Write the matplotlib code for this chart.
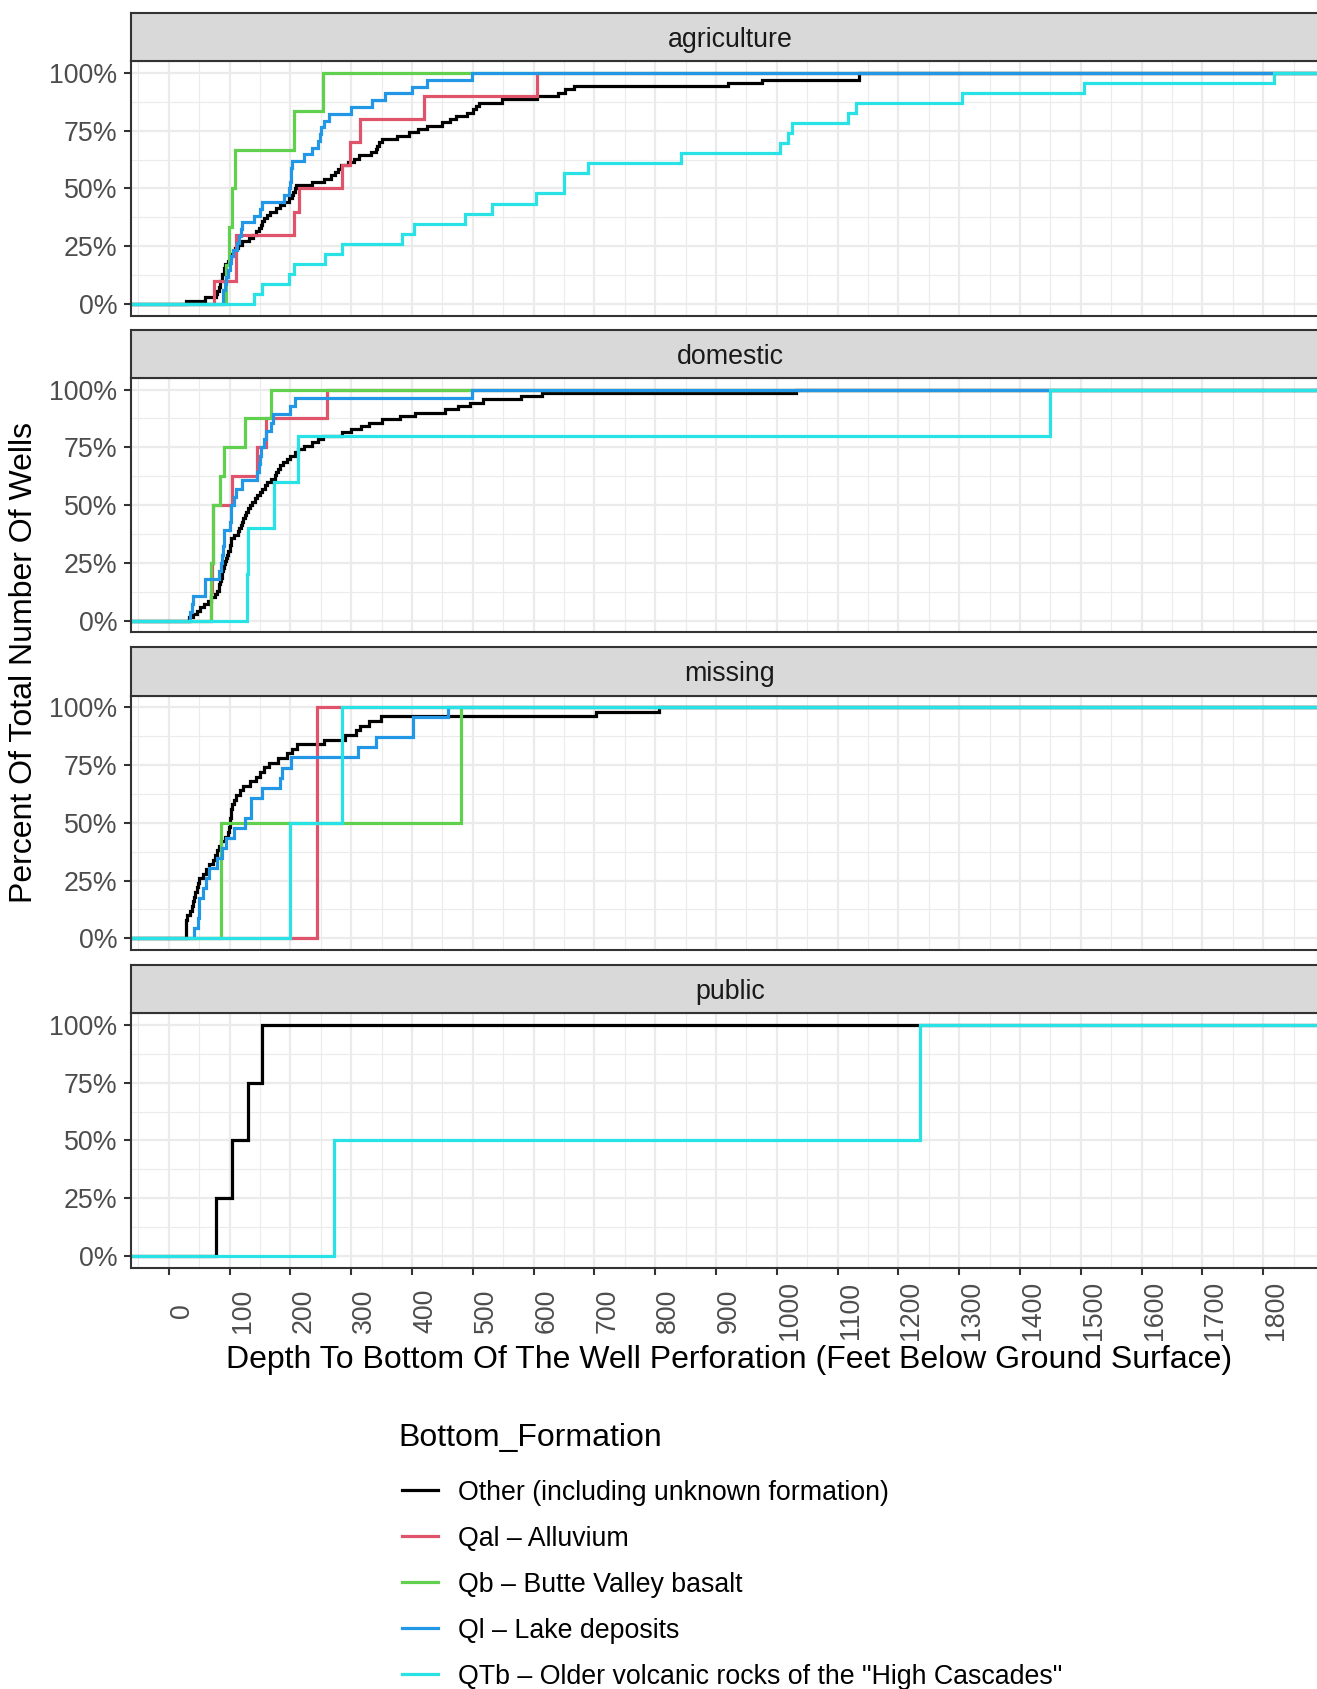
import numpy as np
import matplotlib.pyplot as plt
from matplotlib.lines import Line2D

plt.rcParams['font.family'] = ['Liberation Sans', 'DejaVu Sans']

W, H = 1317, 1689

formations = ["Other (including unknown formation)",
              "Qal \u2013 Alluvium",
              "Qb \u2013 Butte Valley basalt",
              "Ql \u2013 Lake deposits",
              'QTb \u2013 Older volcanic rocks of the "High Cascades"']
colors = ["black", "#DF536B", "#61D04F", "#2297E6", "#28E2E5"]
uses = ["agriculture", "domestic", "missing", "public"]

# Depth to bottom of perforation (ft) for each well, by use and formation
agri_other = [28, 60, 78, 80, 82, 84, 85, 87, 88, 90,
              91, 93, 97, 100, 103, 106, 109, 114, 120, 132,
              138, 143, 148, 152, 154, 157, 162, 167, 176, 183,
              190, 197, 203, 205, 207, 210, 235, 255, 266, 274,
              279, 283, 295, 305, 313, 332, 340, 343, 345, 350,
              375, 395, 410, 425, 450, 462, 472, 490, 500, 505,
              510, 548, 605, 640, 652, 667, 919, 975, 1135, 1135]
agri_qal = [75, 110, 111, 206, 214, 285, 298, 315, 420, 605]
agri_qb = [94, 99, 104, 109, 206, 254]
agri_ql = [89, 89, 92, 94, 98, 101, 103, 106, 112, 115, 118, 121, 140, 150,
           154, 190, 197, 199, 201, 201, 202, 223, 236, 245, 248, 250, 256,
           264, 299, 334, 356, 400, 425, 499]
agri_qtb = [140, 154, 198, 206, 257, 285, 383, 403, 487, 532, 604, 650, 650,
            690, 842, 1006, 1018, 1025, 1117, 1130, 1304, 1506, 1818]

dom_other = [33, 40, 46, 52, 58, 64, 70, 76, 79, 82,
             83, 84, 86, 87, 88, 89, 90, 92, 94, 96,
             98, 100, 101, 102, 103, 107, 113, 115, 118, 120,
             122, 125, 127, 130, 133, 137, 141, 145, 150, 154,
             158, 162, 168, 174, 177, 180, 183, 188, 195, 200,
             207, 212, 223, 235, 246, 253, 285, 300, 316, 330,
             350, 380, 405, 455, 475, 495, 516, 579, 614, 1032]
dom_qal = [69, 71, 72, 72, 104, 145, 160, 261]
dom_qb = [70, 70, 72, 73, 85, 90, 126, 168]
dom_ql = [35, 38, 39, 60, 60, 82, 86, 87, 89, 90, 91, 100, 102, 103, 108,
          110, 120, 145, 148, 150, 151, 156, 160, 168, 172, 200, 208, 499]
dom_qtb = [129, 130, 173, 213, 1450]

mis_other = [28, 28, 28, 28, 30, 35, 38, 40, 41, 43,
             46, 48, 50, 57, 62, 66, 72, 76, 80, 83,
             86, 92, 97, 99, 100, 101, 102, 103, 104, 107,
             111, 117, 122, 133, 143, 150, 157, 164, 180, 195,
             203, 211, 255, 290, 308, 315, 330, 349, 702, 806]
mis_qal = [244]
mis_qb = [86, 480]
mis_ql = [41, 48, 49, 50, 57, 62, 66, 80, 88, 94, 108, 126, 135, 135, 154,
          183, 186, 201, 312, 340, 401, 401, 459]
mis_qtb = [200, 285]

pub_other = [77, 104, 131, 154]
pub_qtb = [271, 1235]

depths = {
    "agriculture": [agri_other, agri_qal, agri_qb, agri_ql, agri_qtb],
    "domestic": [dom_other, dom_qal, dom_qb, dom_ql, dom_qtb],
    "missing": [mis_other, mis_qal, mis_qb, mis_ql, mis_qtb],
    "public": [pub_other, [], [], [], pub_qtb],
}

x_ticks = list(range(0, 1900, 100))
y_ticks = [0, 0.25, 0.5, 0.75, 1.0]
y_labels = ["0%", "25%", "50%", "75%", "100%"]

# x range: data range plus 5% each side
all_d = np.concatenate([np.array(v, float) for grp in depths.values() for v in grp if len(v)])
lo, hi = all_d.min(), all_d.max()
span = hi - lo
xlim = (lo - 0.05 * span, hi + 0.05 * span)

grid_col = "#EBEBEB"
dark = "#333333"
TICK = 19.3
TITLE = 23
LW = 2.3

fig = plt.figure(figsize=(W / 100, H / 100), dpi=100)


def fx(px):
    return px / W


def fy(py):
    return 1 - py / H


left_px, right_px = 131.4, 1328.6
panel_tops = [61.4, 378.0, 695.7, 1013.4]
panel_h = 254.1
strip_h = 48.5

for i, use in enumerate(uses):
    top = panel_tops[i]
    ax = fig.add_axes([fx(left_px), fy(top + panel_h), (right_px - left_px) / W, panel_h / H])

    # ECDF per formation, padded out to both panel edges
    for vals, col in zip(depths[use], colors):
        if len(vals) == 0:
            continue
        d = np.sort(np.array(vals, float))
        p = np.arange(1, len(d) + 1) / len(d)
        xs = np.concatenate([[-1e5], d, [1e5]])
        ys = np.concatenate([[0], p, [1]])
        ax.step(xs, ys, where="post", color=col, lw=LW, solid_joinstyle="miter")

    ax.set_xlim(*xlim)
    ax.set_ylim(-0.05, 1.05)
    ax.set_xticks(x_ticks)
    ax.set_xticks(np.arange(-50, 1900, 100), minor=True)
    ax.set_yticks(y_ticks)
    ax.set_yticks([0.125, 0.375, 0.625, 0.875], minor=True)
    ax.set_yticklabels(y_labels)
    ax.grid(which="major", color=grid_col, lw=1.6)
    ax.grid(which="minor", color=grid_col, lw=0.8)
    ax.set_axisbelow(True)
    for s in ax.spines.values():
        s.set_color(dark)
        s.set_linewidth(1.5)
    ax.tick_params(which="minor", length=0)
    ax.tick_params(axis="y", which="major", length=5, width=1.5, color=dark,
                   labelcolor="#4D4D4D", labelsize=TICK, pad=5)
    if i < len(uses) - 1:
        ax.tick_params(axis="x", which="major", bottom=False, labelbottom=False)
    else:
        ax.tick_params(axis="x", which="major", length=5, width=1.5, color=dark,
                       labelcolor="#4D4D4D", labelsize=TICK, pad=26)
        ax.set_xticklabels([str(t) for t in x_ticks], rotation=90,
                           rotation_mode="anchor", ha="center", va="top")

    # facet strip
    sax = fig.add_axes([fx(left_px), fy(top), (right_px - left_px) / W, strip_h / H])
    sax.set_facecolor("#D9D9D9")
    sax.set_xticks([])
    sax.set_yticks([])
    for s in sax.spines.values():
        s.set_color(dark)
        s.set_linewidth(1.5)
    sax.text(0.5, 0.5, use, transform=sax.transAxes, ha="center", va="center_baseline",
             fontsize=TICK, color="#1A1A1A")

fig.text(fx(729), fy(1360), "Depth To Bottom Of The Well Perforation (Feet Below Ground Surface)",
         ha="center", va="center", fontsize=TITLE)
fig.text(fx(23.7), fy(663), "Percent Of Total Number Of Wells", rotation=90,
         ha="center", va="center", fontsize=TITLE)

# legend
fig.text(fx(398.7), fy(1438), "Bottom_Formation", ha="left", va="center", fontsize=TITLE)
key_y = [1490, 1536, 1582, 1628, 1674]
for name, col, yk in zip(formations, colors, key_y):
    fig.add_artist(Line2D([fx(402), fx(438)], [fy(yk), fy(yk)], color=col, lw=LW))
    fig.text(fx(458), fy(yk), name, ha="left", va="center_baseline", fontsize=TICK)

fig.savefig("out.png", dpi=100)
